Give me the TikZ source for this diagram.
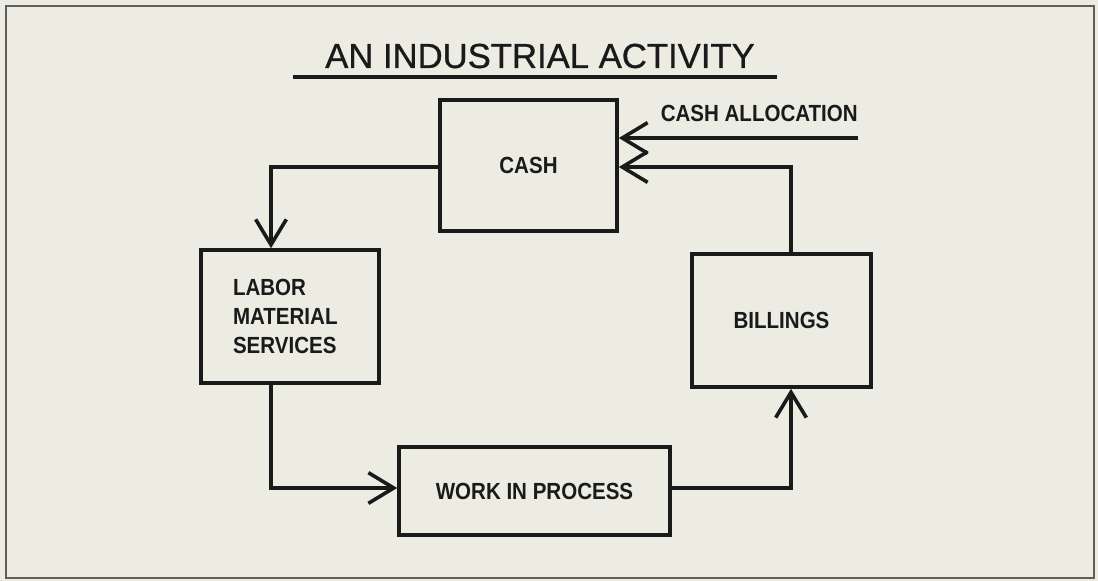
\documentclass[tikz,border=0pt]{standalone}
\usepackage{fontspec}
\setmainfont{Liberation Sans}
\newfontfamily\boxfont[FakeStretch=0.88]{Liberation Sans}
\newfontfamily\titlefont[FakeBold=0.8]{Liberation Sans}
\usetikzlibrary{calc}
\usetikzlibrary{arrows.meta,positioning}
\definecolor{paper}{HTML}{ECECE2}
\definecolor{ink}{HTML}{1A1A1A}
\tikzstyle{blk}=[rectangle, draw=ink, line width=2.7pt, inner sep=0pt, text=ink, font=\boxfont\bfseries\fontsize{17.5}{22}\selectfont]
\tikzstyle{lbl}=[inner sep=0pt, text=ink, font=\boxfont\bfseries\fontsize{17.5}{22}\selectfont]
\tikzstyle{flow}=[draw=ink, line width=2.7pt]

\begin{document}
\begin{tikzpicture}[x=0.75pt, y=-0.75pt, >={Straight Barb[length=19pt,width=23pt]}]
\useasboundingbox (0,0) rectangle (1098,581);
\fill[paper] (0,0) rectangle (1098,581);
\draw[ink!70, line width=1.5pt] (6,6) rectangle (1094,578);

\node[inner sep=0pt, text=ink, font=\titlefont\fontsize{26}{30}\selectfont] (title) at (540,56) {AN INDUSTRIAL ACTIVITY};
\coordinate (ul1) at (293,77);
\coordinate (ul2) at (777,77);
\draw[flow] (ul1) -- (ul2);

\node[blk, minimum width=132.75pt, minimum height=98.25pt] (cash) at (528.5,165.5) {CASH};
\node[blk, minimum width=133.5pt, minimum height=99.75pt, text width=85.5pt, inner xsep=24pt, align=left] (labor) at (290,316.5) {LABOR\\MATERIAL\\SERVICES};
\node[blk, minimum width=203.25pt, minimum height=66pt] (wip) at (534.5,491) {WORK IN PROCESS};
\node[blk, minimum width=134.25pt, minimum height=99.75pt] (bill) at (781.5,320.5) {BILLINGS};

\node[lbl, anchor=east] (alloc) at (858,113.5) {CASH ALLOCATION};
\coordinate (src) at (858,138);

\draw [->, flow] (src) -- (src -| cash.east);
\draw [->, flow] ($(bill.north)+(9.5,0)$) |- ($(cash.east)+(0,1.5)$);
\draw [->, flow] ($(cash.west)+(0,1.5)$) -| ($(labor.north)+(-19,0)$);
\draw [->, flow] ($(labor.south)+(-19,0)$) |- ($(wip.west)+(0,-3)$);
\draw [->, flow] ($(wip.east)+(0,-3)$) -| ($(bill.south)+(9.5,0)$);

\end{tikzpicture}
\end{document}
